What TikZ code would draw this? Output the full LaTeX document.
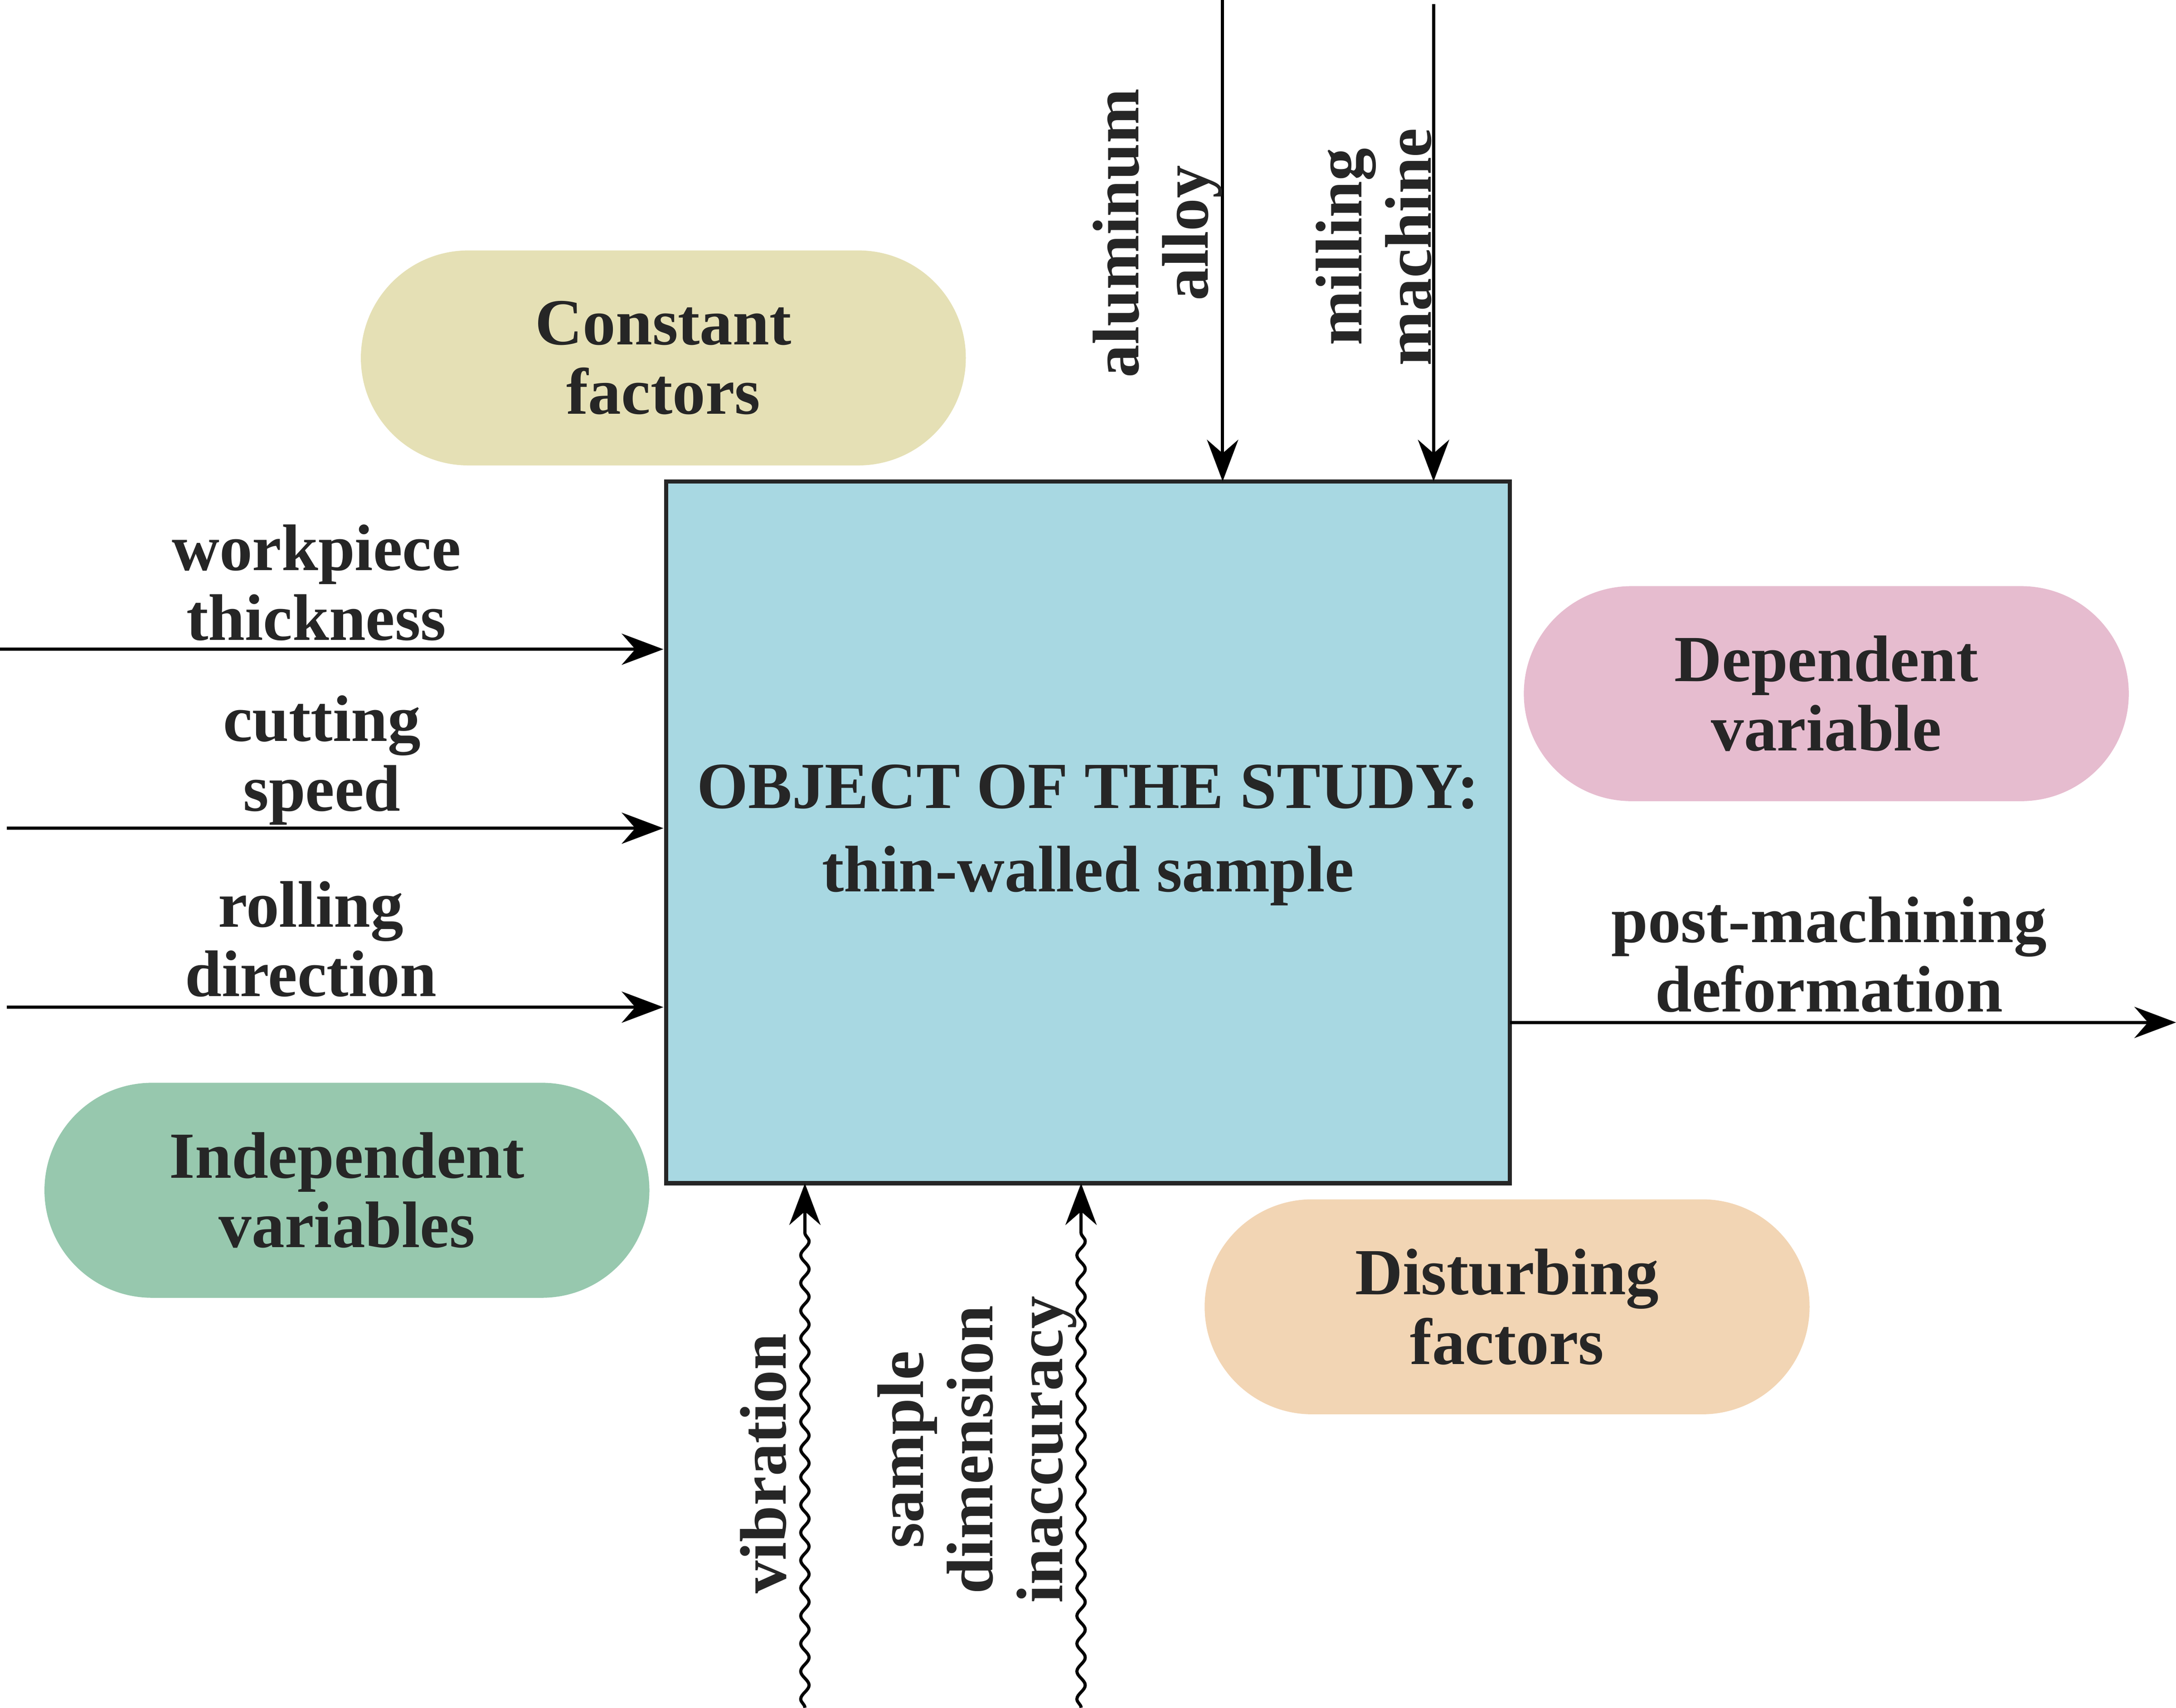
\documentclass[tikz,border=0pt]{standalone}
\usepackage{fontspec}
\setmainfont{Liberation Serif}
\usetikzlibrary{arrows.meta,decorations.pathmorphing}
\definecolor{boxblue}{HTML}{A8D8E2}
\definecolor{constc}{HTML}{E5E0B5}
\definecolor{depc}{HTML}{E6BCCF}
\definecolor{indc}{HTML}{97C8AE}
\definecolor{distc}{HTML}{F2D5B4}
\begin{document}
\begin{tikzpicture}[x=0.02cm,y=-0.02cm,
  txt/.style={font=\fontsize{27}{28.5}\selectfont\bfseries, text=black!85, align=center, inner sep=0pt},
  pill/.style={txt, minimum width=8.72cm, minimum height=3.1cm, rounded corners=1.55cm},
  arr/.style={line width=1.3pt, -{Stealth[length=0.6cm,width=0.45cm]}},
  wavy/.style={arr, decorate, decoration={snake, segment length=0.4cm, amplitude=0.06cm, post length=0.7cm}}]
\useasboundingbox (0,0) rectangle (1568,1231);
\node[draw=black!85, line width=1.8pt, fill=boxblue, minimum width=12.16cm, minimum height=10.12cm, inner sep=0pt] (box) at (784,600) {};
\node[txt] (title) at (784,602) {OBJECT OF THE STUDY:\\[0.2cm]thin-walled sample};
\node[pill, fill=constc] (const) at (478,258) {Constant\\factors};
\node[pill, fill=depc] (dep) at (1316,500) {Dependent\\variable};
\node[pill, fill=indc] (ind) at (250,858) {Independent\\variables};
\node[pill, fill=distc] (dist) at (1086,942) {Disturbing\\factors};
% inputs left
\coordinate (l1) at (0,468); \coordinate (e1) at (478,468);
\coordinate (l2) at (5,597); \coordinate (e2) at (478,597);
\coordinate (l3) at (5,726); \coordinate (e3) at (478,726);
\draw[arr] (l1) -- (e1);
\draw[arr] (l2) -- (e2);
\draw[arr] (l3) -- (e3);
\node[txt] (t1) at (228,420) {workpiece\\thickness};
\node[txt] (t2) at (232,548) {cutting\\speed};
\node[txt] (t3) at (224,677) {rolling\\direction};
% top
\coordinate (u1) at (881,0); \coordinate (d1) at (881,347);
\coordinate (u2) at (1033,3); \coordinate (d2) at (1033,347);
\draw[arr] (u1) -- (d1);
\draw[arr] (u2) -- (d2);
\node[txt, rotate=90] (a1) at (834,168) {aluminum\\alloy};
\node[txt, rotate=90] (a2) at (990,178) {milling\\machine};
% bottom wavy
\coordinate (b1) at (580,1231); \coordinate (f1) at (580,853);
\coordinate (b2) at (779,1231); \coordinate (f2) at (779,853);
\draw[wavy] (b1) -- (f1);
\draw[wavy] (b2) -- (f2);
\node[txt, rotate=90] (v1) at (550,1055) {vibration};
\node[txt, rotate=90] (v2) at (704,1045) {sample\\dimension\\inaccuracy};
% output
\coordinate (o1) at (1088,737); \coordinate (o2) at (1568,737);
\draw[arr] (o1) -- (o2);
\node[txt] (out) at (1318,688) {post-machining\\deformation};
\end{tikzpicture}
\end{document}
